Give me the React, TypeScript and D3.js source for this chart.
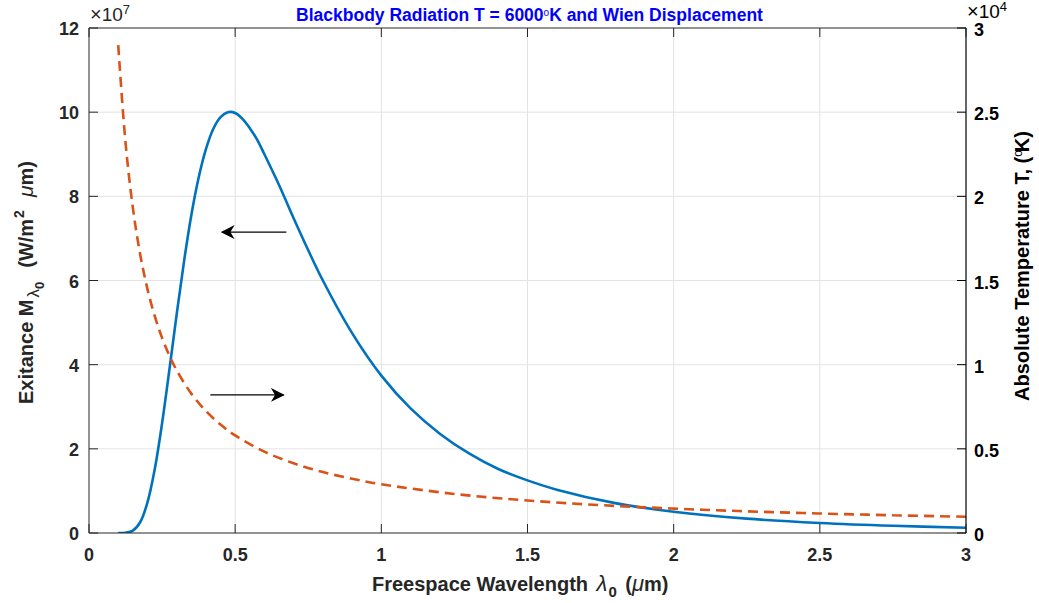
import React, { useEffect, useRef } from 'react';
import * as d3 from 'd3';

// blackbody curve, wavelength in um, exitance in units of 1e7 W/m^2 um
const wavelengths = [
  0.1, 0.125, 0.15, 0.175, 0.2, 0.225, 0.25, 0.275, 0.3, 0.325, 0.35, 0.375, 0.4, 0.425, 0.45,
  0.475, 0.5, 0.525, 0.55, 0.575, 0.6, 0.65, 0.7, 0.75, 0.8, 0.9, 1.0, 1.1, 1.2, 1.3, 1.4, 1.5,
  1.6, 1.8, 2.0, 2.25, 2.5, 2.75, 3.0,
];
const exitance = [
  0, 0.006, 0.056, 0.255, 0.726, 1.52, 2.61, 3.88, 5.2, 6.45, 7.55, 8.44, 9.12, 9.6, 9.88,
  10.0, 9.98, 9.84, 9.62, 9.35, 9.0, 8.27, 7.48, 6.72, 6.0, 4.75, 3.74, 2.96, 2.36, 1.89, 1.52,
  1.25, 1.03, 0.71, 0.505, 0.341, 0.238, 0.171, 0.126,
];

// wien displacement, temperature in units of 1e4 K
const wienWavelengths = [
  0.1, 0.125, 0.15, 0.175, 0.2, 0.225, 0.25, 0.275, 0.3, 0.35, 0.4, 0.45, 0.5, 0.6, 0.7, 0.8,
  0.9, 1.0, 1.25, 1.5, 1.75, 2.0, 2.25, 2.5, 2.75, 3.0,
];
const wienTemps = [
  2.898, 2.318, 1.932, 1.656, 1.449, 1.288, 1.159, 1.054, 0.966, 0.828, 0.7245, 0.644, 0.5796,
  0.483, 0.414, 0.362, 0.322, 0.2898, 0.2318, 0.1932, 0.1656, 0.1449, 0.1288, 0.1159, 0.1054,
  0.0966,
];

const xTicks = [0, 0.5, 1, 1.5, 2, 2.5, 3];
const leftTicks = [0, 2, 4, 6, 8, 10, 12];
const rightTicks = [0, 0.5, 1, 1.5, 2, 2.5, 3];

// annotation arrows: [x from, x to, y on left axis]
const arrowLeft = [0.675, 0.455, 7.15];
const arrowRight = [0.415, 0.665, 3.28];

const App = () => {
  const ref = useRef<SVGSVGElement>(null);

  useEffect(() => {
    const width = 1039;
    const height = 603;
    const m = { left: 89, right: 966, top: 28, bottom: 533 };
    const font = "'Liberation Sans', Arial, Helvetica, sans-serif";

    const svg = d3.select(ref.current);
    svg.selectAll('*').remove();
    svg.attr('width', width).attr('height', height);

    const x = d3.scaleLinear().domain([0, 3]).range([m.left, m.right]);
    const yL = d3.scaleLinear().domain([0, 12]).range([m.bottom, m.top]);
    const yR = d3.scaleLinear().domain([0, 3]).range([m.bottom, m.top]);

    svg.append('rect').attr('width', width).attr('height', height).attr('fill', '#fff');

    const defs = svg.append('defs');
    defs
      .append('marker')
      .attr('id', 'head')
      .attr('viewBox', '0 0 10 10')
      .attr('refX', 9)
      .attr('refY', 5)
      .attr('markerWidth', 14)
      .attr('markerHeight', 14)
      .attr('markerUnits', 'userSpaceOnUse')
      .attr('orient', 'auto')
      .append('path')
      .attr('d', 'M0,0 L10,5 L0,10 L3,5 Z')
      .attr('fill', '#000');

    defs
      .append('clipPath')
      .attr('id', 'plotclip')
      .append('rect')
      .attr('x', m.left)
      .attr('y', m.top)
      .attr('width', m.right - m.left)
      .attr('height', m.bottom - m.top);

    // grid
    const grid = svg.append('g').attr('stroke', '#e3e3e3').attr('stroke-width', 1);
    xTicks.slice(1, -1).forEach((t) => {
      grid.append('line').attr('x1', x(t)).attr('x2', x(t)).attr('y1', m.top).attr('y2', m.bottom);
    });
    leftTicks.slice(1, -1).forEach((t) => {
      grid.append('line').attr('x1', m.left).attr('x2', m.right).attr('y1', yL(t)).attr('y2', yL(t));
    });

    // curves
    const plot = svg.append('g').attr('clip-path', 'url(#plotclip)');
    const blue = d3
      .line<number>()
      .x((d, i) => x(wavelengths[i]))
      .y((d) => yL(d))
      .curve(d3.curveCatmullRom.alpha(0.5));
    plot
      .append('path')
      .attr('d', blue(exitance))
      .attr('fill', 'none')
      .attr('stroke', '#0072BD')
      .attr('stroke-width', 2.6);

    const red = d3
      .line<number>()
      .x((d, i) => x(wienWavelengths[i]))
      .y((d) => yR(d))
      .curve(d3.curveCatmullRom.alpha(0.5));
    plot
      .append('path')
      .attr('d', red(wienTemps))
      .attr('fill', 'none')
      .attr('stroke', '#D95319')
      .attr('stroke-width', 2.6)
      .attr('stroke-dasharray', '10,6');

    // arrows
    [arrowLeft, arrowRight].forEach((a) => {
      svg
        .append('line')
        .attr('x1', x(a[0]))
        .attr('x2', x(a[1]))
        .attr('y1', yL(a[2]))
        .attr('y2', yL(a[2]))
        .attr('stroke', '#000')
        .attr('stroke-width', 1.3)
        .attr('marker-end', 'url(#head)');
    });

    // axes box
    const ax = svg.append('g').attr('fill', 'none').attr('stroke-width', 1);
    ax.append('line')
      .attr('x1', m.left).attr('x2', m.right).attr('y1', m.bottom).attr('y2', m.bottom)
      .attr('stroke', '#262626');
    ax.append('line')
      .attr('x1', m.left).attr('x2', m.right).attr('y1', m.top).attr('y2', m.top)
      .attr('stroke', '#262626');
    ax.append('line')
      .attr('x1', m.left).attr('x2', m.left).attr('y1', m.top).attr('y2', m.bottom)
      .attr('stroke', '#262626');
    ax.append('line')
      .attr('x1', m.right).attr('x2', m.right).attr('y1', m.top).attr('y2', m.bottom)
      .attr('stroke', '#000').attr('stroke-width', 1.2);

    const tl = 9;
    xTicks.forEach((t) => {
      ax.append('line')
        .attr('x1', x(t)).attr('x2', x(t)).attr('y1', m.bottom).attr('y2', m.bottom - tl)
        .attr('stroke', '#262626');
      ax.append('line')
        .attr('x1', x(t)).attr('x2', x(t)).attr('y1', m.top).attr('y2', m.top + tl)
        .attr('stroke', '#262626');
    });
    leftTicks.forEach((t) => {
      ax.append('line')
        .attr('x1', m.left).attr('x2', m.left + tl).attr('y1', yL(t)).attr('y2', yL(t))
        .attr('stroke', '#262626');
    });
    rightTicks.forEach((t) => {
      ax.append('line')
        .attr('x1', m.right).attr('x2', m.right - tl).attr('y1', yR(t)).attr('y2', yR(t))
        .attr('stroke', '#000');
    });

    const txt = svg
      .append('g')
      .attr('font-family', font)
      .attr('font-weight', 'bold')
      .attr('font-size', 18);

    xTicks.forEach((t) => {
      txt.append('text')
        .attr('x', x(t)).attr('y', m.bottom + 28)
        .attr('text-anchor', 'middle')
        .attr('fill', '#262626')
        .text(String(t));
    });
    leftTicks.forEach((t) => {
      txt.append('text')
        .attr('x', m.left - 10).attr('y', yL(t) + 7)
        .attr('text-anchor', 'end')
        .attr('fill', '#262626')
        .text(String(t));
    });
    rightTicks.forEach((t) => {
      txt.append('text')
        .attr('x', m.right + 8).attr('y', yR(t) + 8)
        .attr('fill', '#000')
        .text(String(t));
    });

    // exponent labels
    const e1 = txt.append('text').attr('x', m.left + 1).attr('y', 21).attr('fill', '#262626').attr('font-weight', 'normal');
    e1.append('tspan').text('\u00d7').attr('font-size', 20);
    e1.append('tspan').text('10').attr('font-size', 19);
    e1.append('tspan').text('7').attr('font-size', 13).attr('dy', -7);
    const e2 = txt.append('text').attr('x', m.right + 1).attr('y', 18).attr('fill', '#000').attr('font-weight', 'normal');
    e2.append('tspan').text('\u00d7').attr('font-size', 20);
    e2.append('tspan').text('10').attr('font-size', 19);
    e2.append('tspan').text('4').attr('font-size', 13).attr('dy', -7);

    // title
    const title = txt
      .append('text')
      .attr('x', (m.left + m.right) / 2 + 2)
      .attr('y', 21)
      .attr('text-anchor', 'middle')
      .attr('font-size', 17.5)
      .attr('fill', '#0000FF');
    title.append('tspan').text('Blackbody Radiation T = 6000');
    title.append('tspan').text('o').attr('font-size', 10).attr('dy', -5).attr('font-weight', 'normal');
    title.append('tspan').text('K and Wien Displacement').attr('dy', 5);

    // x label
    const xl = txt
      .append('text')
      .attr('x', 372)
      .attr('y', 591)
      .attr('font-size', 20)
      .attr('fill', '#262626');
    xl.append('tspan').text('Freespace Wavelength ');
    xl.append('tspan').text('\u03bb').attr('font-style', 'italic').attr('font-weight', 'normal').attr('font-size', 22).attr('dx', 3);
    xl.append('tspan').text('0').attr('font-size', 15).attr('dy', 6).attr('dx', 1);
    xl.append('tspan').text(' (').attr('dy', -6).attr('dx', 3);
    xl.append('tspan').text('\u03bc').attr('font-style', 'italic').attr('font-weight', 'normal').attr('font-size', 22);
    xl.append('tspan').text('m)');

    // left label
    const yl = txt
      .append('text')
      .attr('transform', 'translate(33,404) rotate(-90)')
      .attr('font-size', 20)
      .attr('fill', '#262626');
    yl.append('tspan').text('Exitance M');
    yl.append('tspan').text('\u03bb').attr('font-size', 17).attr('dy', 6).attr('dx', 2).attr('font-weight', 'normal');
    yl.append('tspan').text('0').attr('font-size', 13).attr('dy', 5);
    yl.append('tspan').text('(W/m').attr('dy', -11).attr('dx', 14);
    yl.append('tspan').text('2').attr('font-size', 14).attr('dy', -9).attr('dx', 1);
    yl.append('tspan').text('\u03bc').attr('font-style', 'italic').attr('font-weight', 'normal').attr('font-size', 21).attr('dy', 9).attr('dx', 13);
    yl.append('tspan').text('m)');

    // right label
    const rl = txt
      .append('text')
      .attr('transform', 'translate(1029,266) rotate(-90)')
      .attr('text-anchor', 'middle')
      .attr('font-size', 20)
      .attr('fill', '#000');
    rl.append('tspan').text('Absolute Temperature T, (');
    rl.append('tspan').text('o').attr('font-size', 12).attr('dy', -7).attr('font-weight', 'normal');
    rl.append('tspan').text('K)').attr('dy', 7).attr('dx', -2);
  }, []);

  return <svg ref={ref} style={{ position: 'absolute', left: 0, top: 0 }} />;
};

export default App;
